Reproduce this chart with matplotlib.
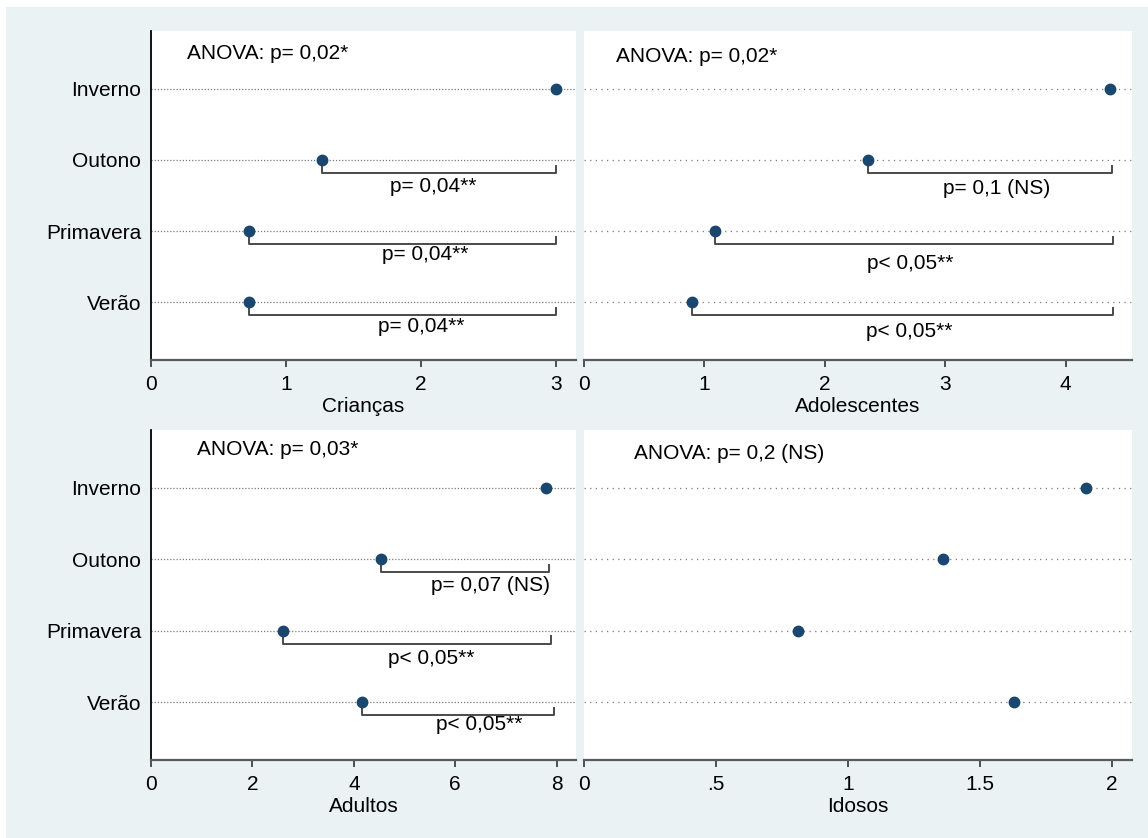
import matplotlib.pyplot as plt
from matplotlib.patches import Rectangle

plt.rcParams['font.family'] = ['Liberation Sans', 'DejaVu Sans']

# Estações (linhas do gráfico, de cima para baixo)
estacoes = ['Inverno', 'Outono', 'Primavera', 'Verão']

# Valores médios por faixa etária
criancas = [3.0, 1.27, 0.73, 0.73]
adolescentes = [4.37, 2.36, 1.09, 0.90]
adultos = [7.79, 4.53, 2.61, 4.17]
idosos = [1.90, 1.36, 0.81, 1.63]

# Textos da ANOVA
anova_criancas = 'ANOVA: p= 0,02*'
anova_adolescentes = 'ANOVA: p= 0,02*'
anova_adultos = 'ANOVA: p= 0,03*'
anova_idosos = 'ANOVA: p= 0,2 (NS)'

# Comparações com o Inverno (Outono, Primavera, Verão)
p_criancas = ['p= 0,04**', 'p= 0,04**', 'p= 0,04**']
p_adolescentes = ['p= 0,1 (NS)', 'p< 0,05**', 'p< 0,05**']
p_adultos = ['p= 0,07 (NS)', 'p< 0,05**', 'p< 0,05**']

# ponta direita de cada colchete
fim_criancas = [3.0, 3.0, 3.0]
fim_adolescentes = [4.38, 4.39, 4.39]
fim_adultos = [7.85, 7.89, 7.94]

W, H = 1148, 838
fig = plt.figure(figsize=(W / 100, H / 100), dpi=100)
fig.patch.set_facecolor('white')
fig.patches.append(Rectangle((6 / W, 0), 1 - 6 / W, 1 - 7 / H, transform=fig.transFigure,
                             facecolor='#eaf2f3', edgecolor='none', zorder=-10))

cor_ponto = '#1a476f'
fs = 15


def eixo(px_left, px_right, px_top, px_bottom):
    return fig.add_axes([px_left / W, 1 - px_bottom / H, (px_right - px_left) / W, (px_bottom - px_top) / H])


def painel(ax, valores, titulo, xmax, xticks, xticklabels, anova, anova_pos,
           rotulos=None, fins=None, desloc=None, mostra_y=True, pontilhado=(0, (1, 1.5))):
    ax.set_facecolor('white')
    n = len(valores)
    ys = list(range(n))
    for y in ys:
        ax.axhline(y, color='#7a7a7a', lw=0.9, ls=pontilhado, zorder=1)
    ax.plot(valores, ys, 'o', color=cor_ponto, ms=7.5, zorder=3, clip_on=False)

    if rotulos is not None:
        for i, (rot, fim) in enumerate(zip(rotulos, fins)):
            y = i + 1
            x0 = valores[y]
            ax.plot([x0, x0, fim, fim], [y, y + 0.18, y + 0.18, y + 0.08],
                    color='#4a4a4a', lw=1.4, zorder=2)
            dx, dy = desloc[i]
            ax.annotate(rot, xy=((x0 + fim) / 2, y), xytext=(dx, -dy), textcoords='offset pixels',
                        ha='center', va='center', fontsize=fs, color='black')

    ax.text(anova_pos[0], anova_pos[1], anova, transform=ax.transAxes, ha='left', va='center',
            fontsize=fs, color='black')

    ax.set_xlim(0, xmax)
    ax.set_ylim(n - 1 + 0.81, -0.81)
    ax.set_xticks(xticks)
    ax.set_xticklabels(xticklabels, fontsize=fs)
    ax.tick_params(axis='x', direction='out', length=5, width=1.2, color='#333333', pad=6)
    ax.set_xlabel(titulo, fontsize=fs, labelpad=2)

    ax.set_yticks(ys)
    if mostra_y:
        ax.set_yticklabels(estacoes, fontsize=fs)
    else:
        ax.set_yticklabels([])
    ax.tick_params(axis='y', length=0, pad=7)

    for s in ['top', 'right']:
        ax.spines[s].set_visible(False)
    ax.spines['bottom'].set_color('#5a5a5a')
    ax.spines['bottom'].set_linewidth(1.6)
    ax.spines['left'].set_color('black')
    ax.spines['left'].set_linewidth(1.3)
    ax.spines['left'].set_visible(mostra_y)


ax1 = eixo(151, 576, 31, 360)
ax2 = eixo(584, 1132, 31, 360)
ax3 = eixo(151, 576, 430, 760)
ax4 = eixo(584, 1132, 430, 760)

painel(ax1, criancas, 'Crianças', 3.15, [0, 1, 2, 3], ['0', '1', '2', '3'],
       anova_criancas, (0.085, 0.933), p_criancas, fim_criancas,
       [(-6, 27), (23, 23), (19, 24)])
painel(ax2, adolescentes, 'Adolescentes', 4.55, [0, 1, 2, 3, 4], ['0', '1', '2', '3', '4'],
       anova_adolescentes, (0.058, 0.921), p_adolescentes, fim_adolescentes,
       [(7, 29), (-4, 32), (7, 29)], mostra_y=False, pontilhado=(0, (1, 3.5)))
painel(ax3, adultos, 'Adultos', 8.38, [0, 2, 4, 6, 8], ['0', '2', '4', '6', '8'],
       anova_adultos, (0.108, 0.942), p_adultos, fim_adultos,
       [(26, 26), (14, 28), (21, 22)])
painel(ax4, idosos, 'Idosos', 2.076, [0, 0.5, 1, 1.5, 2], ['0', '.5', '1', '1.5', '2'],
       anova_idosos, (0.091, 0.930), mostra_y=False, pontilhado=(0, (1, 3.5)))

fig.savefig('out.png', dpi=100)
